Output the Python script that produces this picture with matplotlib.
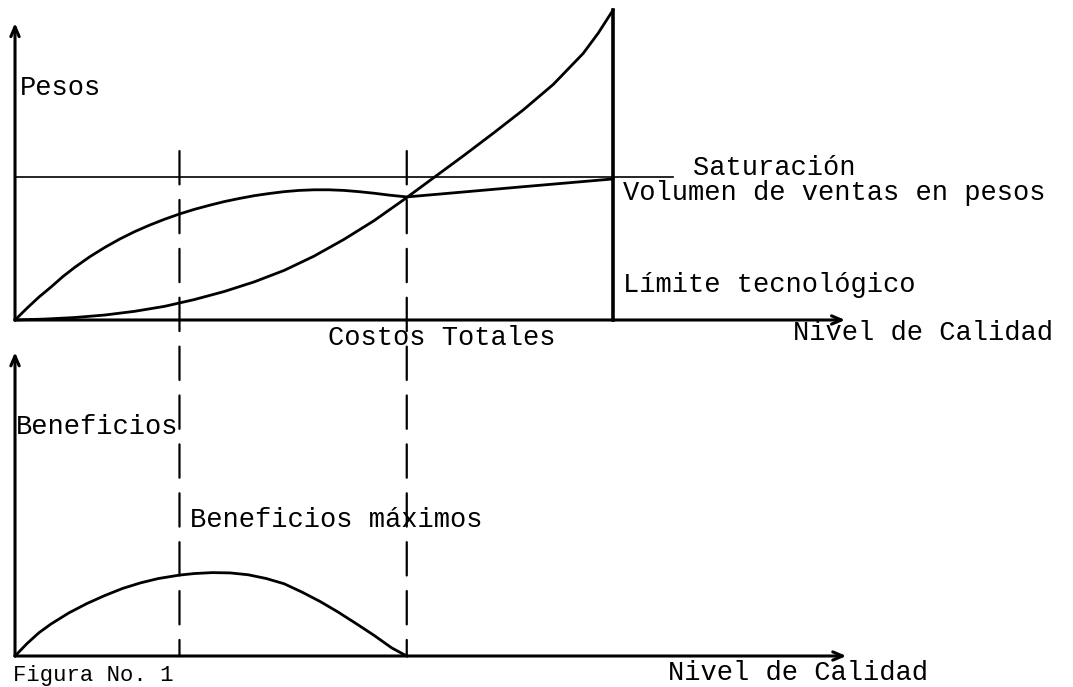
import matplotlib
matplotlib.use('Agg')
import matplotlib.pyplot as plt
from matplotlib.patches import ConnectionPatch

plt.rcParams['font.family'] = ['Liberation Mono', 'DejaVu Sans Mono']

# Nivel de calidad (0 = origen, 100 = limite tecnologico)
costos_x = [0, 5, 10, 15, 20, 25, 30, 35, 40, 45, 50, 55, 60, 65, 70, 75, 80, 85, 90, 95, 97.5, 100]
costos_y = [0, 0.3, 0.8, 1.6, 2.8, 4.4, 6.6, 9.2, 12.3, 16.0, 20.6, 26.0, 32.0, 38.8, 45.9, 53.0,
            60.3, 67.8, 76.0, 86.0, 92.5, 100]

ventas_x = [0, 2, 4, 6, 8, 10, 12.5, 15, 17.5, 20, 22.5, 25, 27.5, 30, 32.5, 35, 37.5, 40, 42.5,
            45, 47.5, 50, 52.5, 55, 57.5, 60, 62.5, 65.5, 75, 85, 100]
ventas_y = [0, 3.8, 7.4, 10.6, 14, 17, 20.4, 23.4, 26.1, 28.5, 30.6, 32.5, 34.2, 35.7, 37, 38.2,
            39.2, 40.1, 40.8, 41.4, 41.8, 42, 42, 41.8, 41.4, 40.9, 40.3, 39.7, 41.3, 43, 45.5]

benef_x = [0, 2, 4, 6, 9, 12, 15, 18, 21, 24, 27.5, 30, 33, 36, 39, 42, 45, 48, 51, 54, 57, 60, 63, 65.5]
benef_y = [0, 4, 7.5, 10.3, 13.9, 16.9, 19.5, 21.8, 23.6, 25, 26.1, 26.6, 26.9, 26.8, 26.2, 25.0,
           23.3, 20.6, 17.6, 14.2, 10.5, 6.7, 2.6, 0]

saturacion = 46.1
limite_tec = 100
optimo_x = [27.5, 65.5]   # beneficios maximos / costos = ventas
dashed_top = 54.5

fig = plt.figure(figsize=(10.73, 6.87), dpi=100)
ax1 = fig.add_axes([0, 337 / 687, 1, 350 / 687])
ax2 = fig.add_axes([0, 0, 1, 337 / 687])
for ax in (ax1, ax2):
    ax.set_xlim(-2.51, 176.9)
    ax.axis('off')
ax1.set_ylim(-9.68, 103.23)
ax2.set_ylim(-10, 98.71)

arrow = dict(arrowstyle='->, head_length=0.7, head_width=0.3', lw=2.2, color='black',
             shrinkA=0, shrinkB=0)

# --- panel superior: pesos ---
ax1.annotate('', xy=(0, 95.8), xytext=(0, 0), arrowprops=arrow)
ax1.annotate('', xy=(138.8, 0), xytext=(0, 0), arrowprops=arrow)
ax1.plot([0, 110], [saturacion, saturacion], color='black', lw=1.2)
ax1.plot([limite_tec, limite_tec], [0, 100], color='black', lw=2.6)
ax1.plot(costos_x, costos_y, color='black', lw=2.0)
ax1.plot(ventas_x, ventas_y, color='black', lw=2.0)

fs = 19.5
ax1.text(0.8, 74.8, 'Pesos', fontsize=fs, va='center')
ax1.text(113.4, 49.0, 'Saturación', fontsize=fs, va='center')
ax1.text(101.7, 41.0, 'Volumen de ventas en pesos', fontsize=fs, va='center')
ax1.text(101.7, 11.3, 'Límite tecnológico', fontsize=fs, va='center')
ax1.text(52.3, -5.8, 'Costos Totales', fontsize=fs, va='center')
ax1.text(130, -4.2, 'Nivel de Calidad', fontsize=fs, va='center')

# --- panel inferior: beneficios ---
ax2.annotate('', xy=(0, 98), xytext=(0, 0), arrowprops=arrow)
ax2.annotate('', xy=(139, 0), xytext=(0, 0), arrowprops=arrow)
ax2.plot(benef_x, benef_y, color='black', lw=2.0)

ax2.text(0.2, 73.9, 'Beneficios', fontsize=fs, va='center')
ax2.text(29.3, 43.9, 'Beneficios máximos', fontsize=fs, va='center')
ax2.text(109.2, -7.9, 'Nivel de Calidad', fontsize=fs, va='baseline')
ax2.text(-0.3, -9.6, 'Figura No. 1', fontsize=16, va='bottom')

# lineas punteadas que cruzan ambos paneles
for q in optimo_x:
    con = ConnectionPatch(xyA=(q, dashed_top), coordsA=ax1.transData,
                          xyB=(q, 0), coordsB=ax2.transData,
                          color='black', lw=1.6, linestyle=(0, (15, 7)))
    fig.add_artist(con)

fig.savefig('out.png', dpi=100, facecolor='white')
